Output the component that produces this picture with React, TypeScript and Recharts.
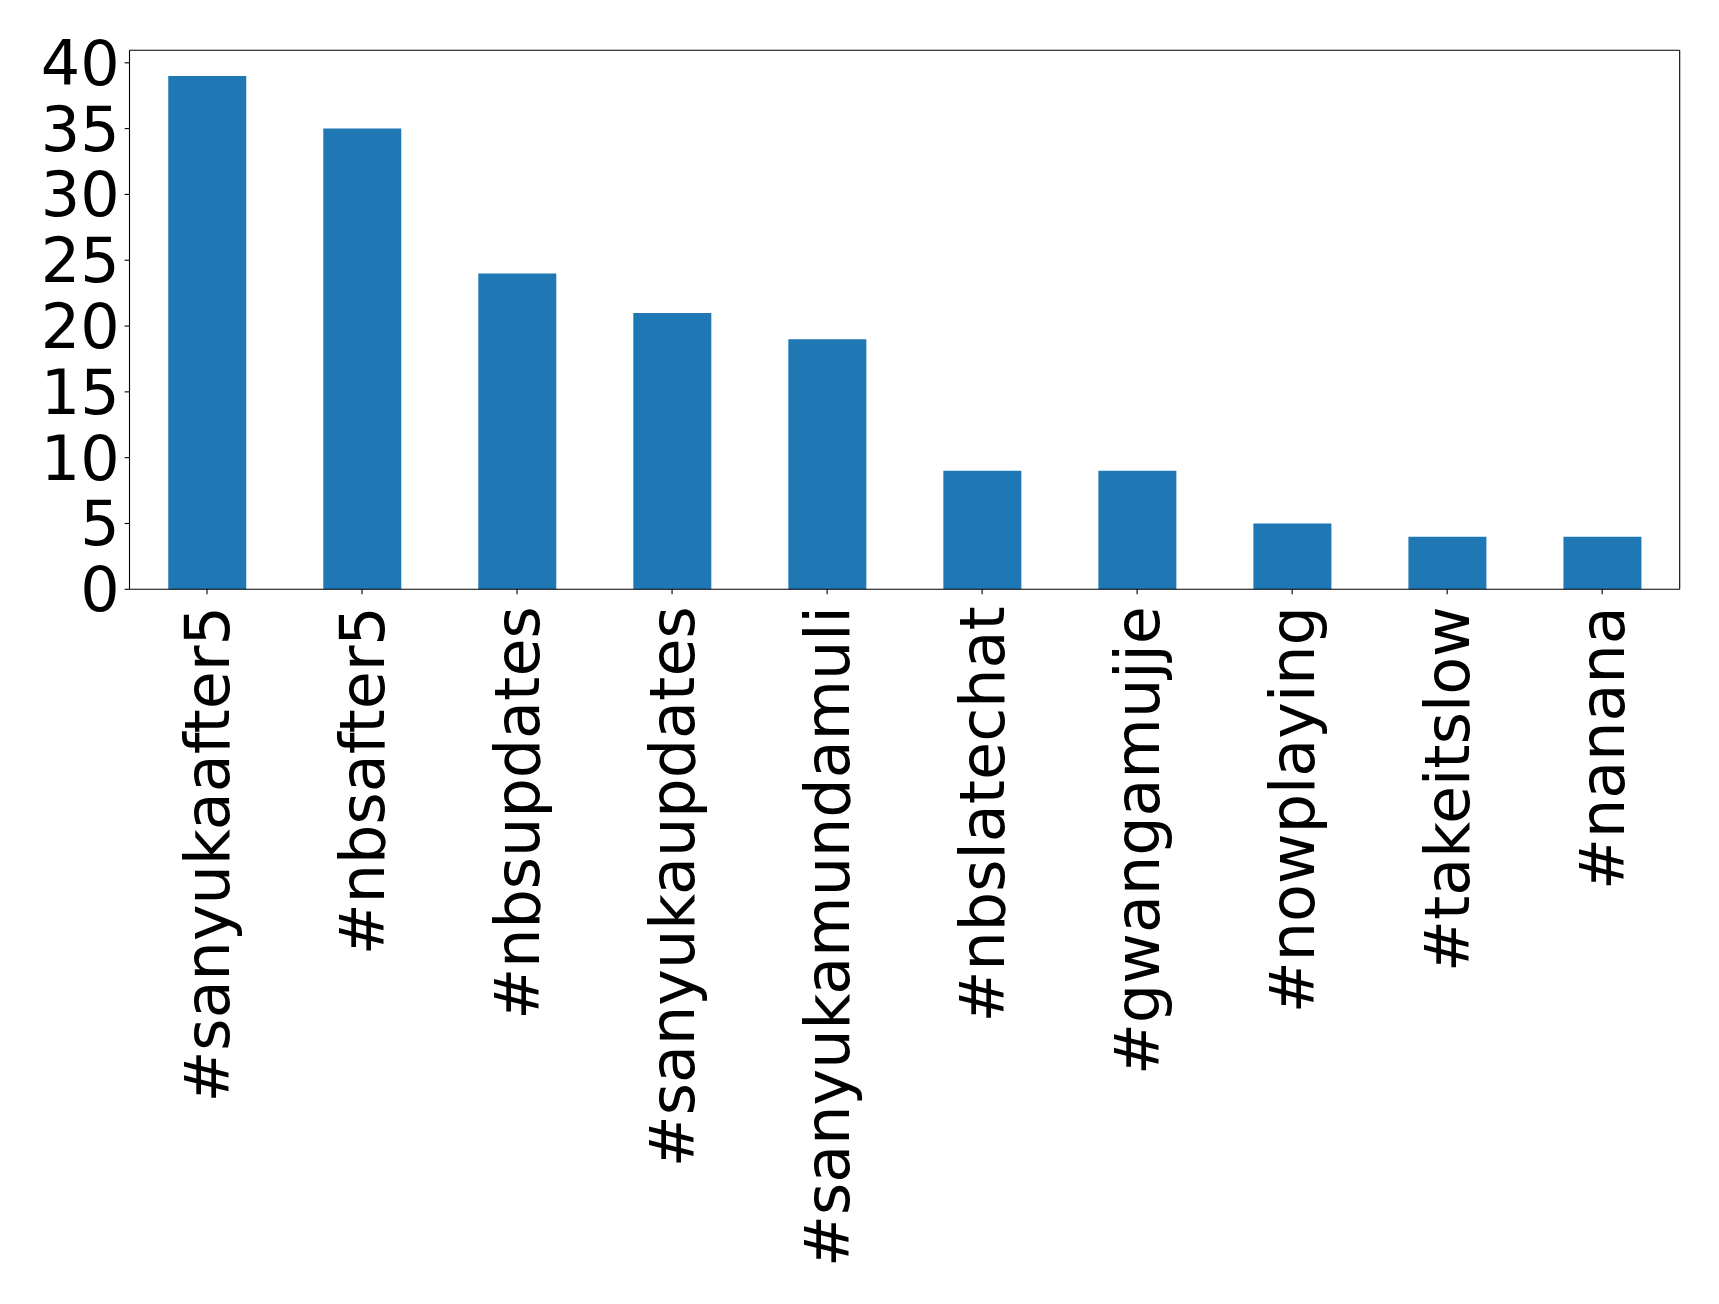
import React from 'react';
import { ComposedChart, Bar, Line, XAxis, YAxis } from 'recharts';

const hashtags = [
  '#sanyukaafter5',
  '#nbsafter5',
  '#nbsupdates',
  '#sanyukaupdates',
  '#sanyukamundamuli',
  '#nbslatechat',
  '#gwangamujje',
  '#nowplaying',
  '#takeitslow',
  '#nanana',
];
const counts = [39, 35, 24, 21, 19, 9, 9, 5, 4, 4];
const yTicks = [0, 5, 10, 15, 20, 25, 30, 35, 40];

const data = hashtags.map((name, i) => ({ name, count: counts[i] }));

const FONT = '"DejaVu Sans", sans-serif';

const XTick = (props: any) => {
  const { x, y, payload } = props;
  return (
    <text
      x={x}
      y={y}
      dy="0.35em"
      textAnchor="end"
      transform={`rotate(-90, ${x}, ${y})`}
      fontFamily={FONT}
      fontSize={62}
      fill="#000"
    >
      {payload.value}
    </text>
  );
};

export default function App() {
  return (
    <div style={{ position: 'absolute', left: 0, top: 0, background: '#fff' }}>
      <ComposedChart
        width={1719}
        height={1304}
        data={data}
        margin={{ top: 49.3, right: 38.3, left: 9.5, bottom: 0 }}
        barCategoryGap="25%"
      >
        <XAxis
          dataKey="name"
          interval={0}
          height={714.7}
          stroke="#000"
          strokeWidth={1.1}
          tickSize={4.86}
          tickMargin={12}
          tick={<XTick />}
        />
        {/* top and right spines */}
        <XAxis
          xAxisId="top"
          orientation="top"
          dataKey="name"
          height={1}
          stroke="#000"
          strokeWidth={1.1}
          tick={false}
          tickLine={false}
        />
        <YAxis
          domain={[0, 40.95]}
          ticks={yTicks}
          interval={0}
          width={120}
          stroke="#000"
          strokeWidth={1.1}
          tickSize={4.86}
          tickMargin={5}
          tick={{ fontFamily: FONT, fontSize: 62, fill: '#000' }}
        />
        <YAxis
          yAxisId="right"
          orientation="right"
          domain={[0, 40.95]}
          width={1}
          stroke="#000"
          strokeWidth={1.1}
          tick={false}
          tickLine={false}
        />
        <Bar dataKey="count" fill="#1f77b4" isAnimationActive={false} />
        <Line
          xAxisId="top"
          yAxisId="right"
          dataKey="count"
          stroke="none"
          dot={false}
          activeDot={false}
          isAnimationActive={false}
        />
      </ComposedChart>
    </div>
  );
}
